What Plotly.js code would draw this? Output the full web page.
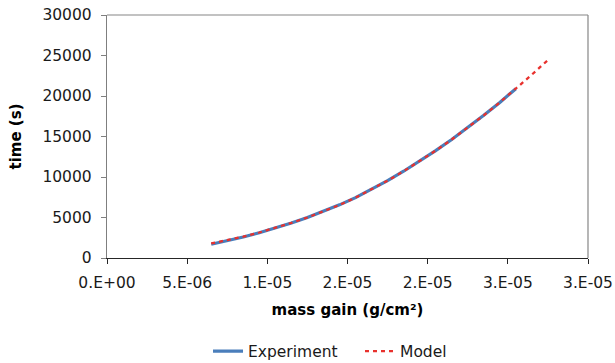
<!DOCTYPE html>
<html>
<head>
<meta charset="utf-8">
<script src="https://cdn.plot.ly/plotly-3.0.1.min.js"></script>
<style>html,body{margin:0;padding:0;background:#fff;}#chart{width:615px;height:363px;}</style>
</head>
<body>
<div id="chart"></div>
<script>
// Experiment: mass gain (g/cm2) vs time (s)
const massExp = [6.5e-6, 7.5e-6, 8.5e-6, 9.5e-6, 1.05e-5, 1.15e-5, 1.25e-5, 1.35e-5, 1.45e-5, 1.55e-5,
                 1.65e-5, 1.75e-5, 1.85e-5, 1.95e-5, 2.05e-5, 2.15e-5, 2.25e-5, 2.35e-5, 2.45e-5, 2.55e-5];
const timeExp = [1690, 2110, 2590, 3120, 3700, 4330, 5010, 5740, 6560, 7450,
                 8470, 9555, 10710, 11940, 13250, 14630, 16080, 17610, 19210, 20900];
// Model
const massModel = [6.5e-6, 7.5e-6, 8.5e-6, 9.5e-6, 1.05e-5, 1.15e-5, 1.25e-5, 1.35e-5, 1.45e-5, 1.55e-5,
                   1.65e-5, 1.75e-5, 1.85e-5, 1.95e-5, 2.05e-5, 2.15e-5, 2.25e-5, 2.35e-5, 2.45e-5, 2.55e-5,
                   2.65e-5, 2.75e-5];
const timeModel = [1800, 2180, 2640, 3150, 3710, 4330, 5000, 5730, 6540, 7450,
                   8470, 9550, 10710, 11940, 13250, 14630, 16080, 17610, 19210, 20890,
                   22640, 24440];
// Axis ticks
const xTickVals = [0, 5e-6, 1e-5, 1.5e-5, 2e-5, 2.5e-5, 3e-5];
const xTickText = ["0.E+00", "5.E-06", "1.E-05", "2.E-05", "2.E-05", "3.E-05", "3.E-05"];
const yTickVals = [0, 5000, 10000, 15000, 20000, 25000, 30000];
const yTickText = ["0", "5000", "10000", "15000", "20000", "25000", "30000"];

const FONT = "DejaVu Sans, sans-serif";

const traces = [
  {x: massExp, y: timeExp, name: "Experiment", type: "scatter", mode: "lines",
   line: {color: "#4a7ebb", width: 3.2}},
  {x: massModel, y: timeModel, name: "Model", type: "scatter", mode: "lines",
   line: {color: "#e8312d", width: 2.3, dash: "4px,4px"}}
];

const layout = {
  width: 615, height: 363,
  margin: {l: 107, r: 27, t: 15, b: 105, pad: 0, autoexpand: false},
  paper_bgcolor: "#fff", plot_bgcolor: "#fff",
  font: {family: FONT, size: 15.5, color: "#1a1a1a"},
  showlegend: true,
  legend: {orientation: "h", x: 0.21, xanchor: "left", y: -0.385, yanchor: "middle",
           entrywidth: 107,
           font: {family: FONT, size: 15.5, color: "#1a1a1a"}, itemwidth: 30, bgcolor: "rgba(0,0,0,0)"},
  xaxis: {
    range: [0, 3e-5], tickmode: "array", tickvals: xTickVals, ticktext: xTickText, automargin: false,
    showgrid: false, zeroline: false, showline: true, linecolor: "#262626", linewidth: 1.2,
    ticks: "outside", ticklen: 5, tickcolor: "#262626", tickwidth: 1,
    ticklabelstandoff: 5,
    tickfont: {family: FONT, size: 15.5, color: "#1a1a1a"},
    title: {text: "mass gain (g/cm²)", font: {family: FONT, size: 15, color: "#000", weight: "bold"}, standoff: 13}
  },
  yaxis: {
    range: [0, 30000], tickmode: "array", tickvals: yTickVals, ticktext: yTickText, automargin: false,
    showgrid: false, zeroline: false, showline: true, linecolor: "#7f7f7f", linewidth: 1.2,
    ticks: "outside", ticklen: 5, tickcolor: "#7f7f7f", tickwidth: 1,
    ticklabelstandoff: 6,
    tickfont: {family: FONT, size: 15.5, color: "#1a1a1a"},
    title: {text: "time (s)", font: {family: FONT, size: 15, color: "#000", weight: "bold"}, standoff: 17}
  },
  shapes: [
    {type: "line", xref: "paper", yref: "paper", x0: 0, x1: 1, y0: 1, y1: 1, line: {color: "#868686", width: 1.2}},
    {type: "line", xref: "paper", yref: "paper", x0: 1, x1: 1, y0: 0, y1: 1, line: {color: "#868686", width: 1.2}}
  ]
};

Plotly.newPlot("chart", traces, layout, {staticPlot: true, displayModeBar: false});
</script>
</body>
</html>
